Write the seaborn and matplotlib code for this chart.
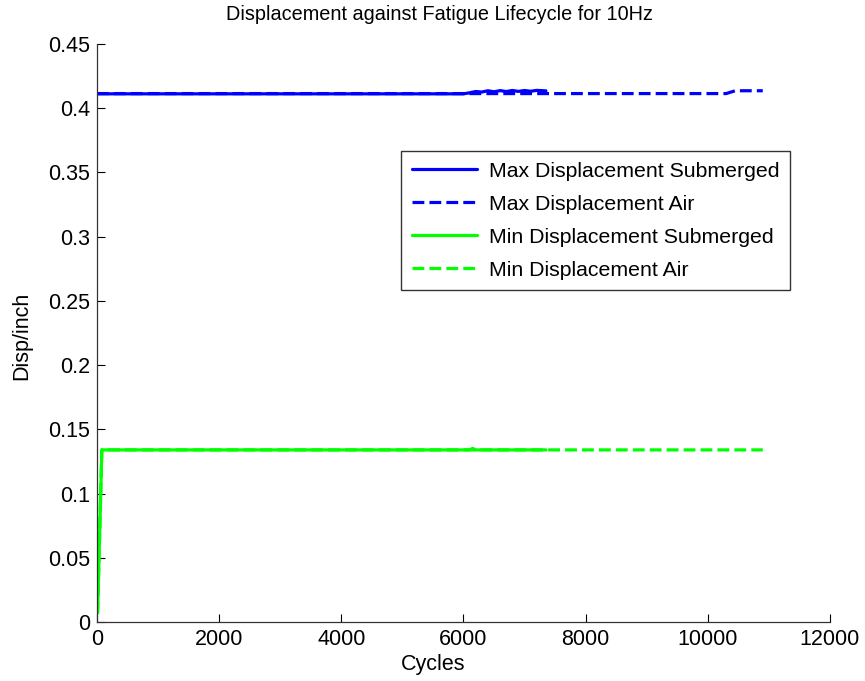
import matplotlib
matplotlib.use("Agg")
import matplotlib.pyplot as plt
import seaborn as sns
import pandas as pd

# Fatigue test readings (cycles vs displacement in inches)
max_sub_cycles = [0, 100, 6000, 6100, 6200, 6300, 6400, 6500, 6600, 6700, 6800, 6900, 7000, 7100, 7200, 7350]
max_sub_disp = [0.4112, 0.4112, 0.4112, 0.4120, 0.4130, 0.4126, 0.4136, 0.4128, 0.4137, 0.4130, 0.4138, 0.4131, 0.4138, 0.4132, 0.4139, 0.4135]

max_air_cycles = [0, 7350, 10300, 10450, 10900]
max_air_disp = [0.4114, 0.4114, 0.4114, 0.4136, 0.4136]

min_sub_cycles = [10, 80, 6100, 6150, 6200, 7350]
min_sub_disp = [0.007, 0.1340, 0.1340, 0.1352, 0.1340, 0.1340]

min_air_cycles = [10, 80, 10900]
min_air_disp = [0.007, 0.1340, 0.1340]

series = [
    ("Max Displacement Submerged", max_sub_cycles, max_sub_disp, "#0000ff", "-"),
    ("Max Displacement Air", max_air_cycles, max_air_disp, "#0000ff", "--"),
    ("Min Displacement Submerged", min_sub_cycles, min_sub_disp, "#00ff00", "-"),
    ("Min Displacement Air", min_air_cycles, min_air_disp, "#00ff00", "--"),
]

sns.set_style("white")
plt.rcParams["font.family"] = ["Liberation Sans", "DejaVu Sans"]
plt.rcParams["text.color"] = "black"
plt.rcParams["axes.labelcolor"] = "black"

fig = plt.figure(figsize=(8.65, 6.81), dpi=100)
ax = fig.add_axes([0.1121, 0.0866, 0.8474, 0.8488])

for label, xs, ys, color, ls in series:
    df = pd.DataFrame({"Cycles": xs, "Disp": ys})
    sns.lineplot(data=df, x="Cycles", y="Disp", ax=ax, color=color,
                 linestyle=ls, linewidth=2.3, label=label, sort=False,
                 estimator=None)

ax.set_xlim(0, 12000)
ax.set_ylim(0, 0.45)
ax.set_xticks(range(0, 12001, 2000))
ax.set_yticks([i * 0.05 for i in range(10)])
ax.set_yticklabels(["0", "0.05", "0.1", "0.15", "0.2", "0.25", "0.3", "0.35", "0.4", "0.45"])
ax.tick_params(direction="in", length=6, width=0.8, labelsize=15.5, colors="black",
               left=True, bottom=True, pad=5)
for side in ["top", "right"]:
    ax.spines[side].set_visible(False)
for side in ["left", "bottom"]:
    ax.spines[side].set_color("#333333")
    ax.spines[side].set_linewidth(0.9)

ax.set_xlabel("Cycles", fontsize=15.5, color="black")
ax.xaxis.set_label_coords(0.458, -0.055)
ax.set_ylabel("Disp/inch", fontsize=15.5, color="black")
ax.yaxis.set_label_coords(-0.088, 0.495)
ax.set_title("Displacement against Fatigue Lifecycle for 10Hz", fontsize=14.3,
             x=0.467, y=1.0, pad=17, color="black")

leg = ax.legend(loc="upper left", bbox_to_anchor=(0.4147, 0.815), fontsize=15.3,
                frameon=True, fancybox=False, edgecolor="black",
                handlelength=3.1, borderpad=0.5, labelspacing=0.66, handletextpad=0.55,
                borderaxespad=0)
leg.get_frame().set_linewidth(1.0)
for t in leg.get_texts():
    t.set_color("black")

fig.savefig("out.png", dpi=100)
